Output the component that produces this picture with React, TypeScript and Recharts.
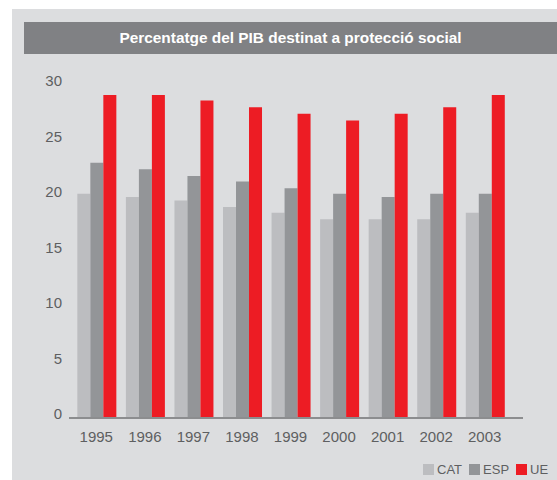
import { BarChart, Bar, XAxis, YAxis } from "recharts";

const years = ["1995", "1996", "1997", "1998", "1999", "2000", "2001", "2002", "2003"];
const cat = [20.2, 19.9, 19.6, 19.0, 18.5, 17.9, 17.9, 17.9, 18.5];
const esp = [23.0, 22.4, 21.8, 21.3, 20.7, 20.2, 19.9, 20.2, 20.2];
const ue = [29.1, 29.1, 28.6, 28.0, 27.4, 26.8, 27.4, 28.0, 29.1];
const yTicks = [0, 5, 10, 15, 20, 25, 30];

const series = [
  { key: "cat", name: "CAT", color: "#bcbdc0" },
  { key: "esp", name: "ESP", color: "#939598" },
  { key: "ue", name: "UE", color: "#ed1c24" },
];

const data = years.map((year, i) => ({ year, cat: cat[i], esp: esp[i], ue: ue[i] }));

const font = '"Liberation Sans", Arial, Helvetica, sans-serif';
const textColor = "#5e5f61";

const YTick = (props: any) => {
  const { x, y, payload } = props;
  return (
    <text x={x} y={y - 4.5} textAnchor="end" dominantBaseline="central" fill={textColor} fontSize={15} fontFamily={font}>
      {payload.value}
    </text>
  );
};

export default function App() {
  return (
    <div style={{ position: "absolute", left: 0, top: 0, width: 557, height: 480, background: "#fff", overflow: "hidden", fontFamily: font }}>
      <div style={{ position: "absolute", left: 12, top: 9, width: 545, height: 471, background: "#dcdddf" }} />
      <div
        style={{
          position: "absolute",
          left: 24,
          top: 22,
          width: 533,
          height: 32,
          background: "#808184",
          color: "#fff",
          fontWeight: "bold",
          fontSize: 15.4,
          display: "flex",
          alignItems: "center",
          justifyContent: "center",
        }}
      >
        Percentatge del PIB destinat a protecció social
      </div>
      <div style={{ position: "absolute", left: 0, top: 0 }}>
        <BarChart
          width={557}
          height={480}
          data={data}
          margin={{ top: 85, right: 34, bottom: 32, left: 9 }}
          barCategoryGap="11%"
          barGap={0}
        >
          <XAxis
            dataKey="year"
            height={30}
            padding={{ left: 3, right: 14 }}
            tickLine={false}
            tickSize={0}
            tickMargin={13}
            axisLine={{ stroke: "#8c8d8f", strokeWidth: 2 }}
            tick={{ fill: textColor, fontSize: 15, fontFamily: font }}
            interval={0}
          />
          <YAxis
            width={60}
            domain={[0, 30]}
            ticks={yTicks}
            axisLine={false}
            tickLine={false}
            tickSize={0}
            tickMargin={7}
            tick={<YTick />}
            interval={0}
          />
          {series.map((s) => (
            <Bar key={s.key} dataKey={s.key} name={s.name} fill={s.color} isAnimationActive={false} />
          ))}
        </BarChart>
      </div>
      <div style={{ position: "absolute", left: 423, top: 464, display: "flex", alignItems: "center", fontSize: 13, color: textColor, lineHeight: "11px" }}>
        {series.map((s) => (
          <div key={s.key} style={{ display: "flex", alignItems: "center", marginRight: 7 }}>
            <span style={{ display: "inline-block", width: 11, height: 11, background: s.color, marginRight: 3 }} />
            <span>{s.name}</span>
          </div>
        ))}
      </div>
    </div>
  );
}
